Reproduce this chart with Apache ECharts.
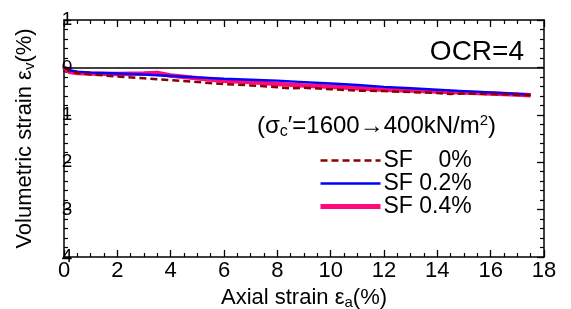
<!DOCTYPE html>
<html>
<head>
<meta charset="utf-8">
<script src="https://cdn.jsdelivr.net/npm/echarts@6/dist/echarts.min.js"></script>
<style>
  html, body { margin: 0; padding: 0; background: #fff; }
  #myChart { width: 571px; height: 309px; }
</style>
</head>
<body>
<div id="myChart"></div>
<script>
// 数据
var xTicks = [0, 2, 4, 6, 8, 10, 12, 14, 16, 18];
var yTickLabels = {'-1': '1', '0': '0', '1': '1', '2': '2', '3': '3', '4': '4'};

var seriesNames = ['SF    0%', 'SF 0.2%', 'SF 0.4%'];

var sf0X = [0, 0.2, 0.5, 1, 2, 3, 4, 5, 6, 7, 8, 8.5, 9, 10, 11, 12, 13, 14, 14.5, 15, 16, 17, 17.5];
var sf0Y = [0, 0.08, 0.12, 0.15, 0.19, 0.23, 0.27, 0.31, 0.35, 0.38, 0.42, 0.44, 0.43, 0.46, 0.49, 0.5, 0.52, 0.54, 0.56, 0.55, 0.56, 0.58, 0.59];

var sf02X = [0, 0.2, 0.5, 1, 2, 3, 4, 5, 6, 7, 8, 9, 10, 11, 12, 13, 14, 15, 16, 17, 17.5];
var sf02Y = [0, 0.06, 0.09, 0.11, 0.13, 0.15, 0.18, 0.21, 0.24, 0.26, 0.28, 0.31, 0.34, 0.37, 0.41, 0.44, 0.47, 0.5, 0.53, 0.56, 0.58];

var sf04X = [0, 0.2, 0.5, 1, 2, 3, 3.5, 4, 5, 6, 7, 8, 9, 10, 11, 12, 13, 14, 15, 16, 17, 17.5];
var sf04Y = [0, 0.09, 0.12, 0.13, 0.14, 0.13, 0.12, 0.17, 0.23, 0.28, 0.31, 0.35, 0.38, 0.41, 0.44, 0.47, 0.49, 0.51, 0.53, 0.55, 0.57, 0.59];

function pairs(xs, ys) {
    return xs.map(function (x, i) { return [x, ys[i]]; });
}

var font = 'Liberation Sans, Arial, sans-serif';
var nameRich = {
    e: { fontSize: 22, fontFamily: font, color: '#000' },
    s: { fontSize: 15, fontFamily: font, color: '#000', verticalAlign: 'bottom', padding: [9, 0, 0, 0] }
};

var myChart = echarts.init(document.getElementById('myChart'));
myChart.setOption({
    animation: false,
    textStyle: { fontFamily: font, color: '#000' },
    grid: { left: 64, right: 27, top: 20, bottom: 52, containLabel: false, outerBoundsMode: 'none' },
    legend: {
        orient: 'vertical',
        left: 318,
        top: 149,
        padding: 0,
        itemWidth: 60,
        itemHeight: 12,
        itemGap: 0,
        itemStyle: { opacity: 0 },
        textStyle: { fontSize: 23, lineHeight: 21.5, color: '#000', fontFamily: font, padding: [0, 0, 0, -2] },
        data: [
            { name: seriesNames[0], lineStyle: { width: 2.6 } },
            { name: seriesNames[1], lineStyle: { width: 2.6 } },
            { name: seriesNames[2], lineStyle: { width: 5 } }
        ]
    },
    xAxis: [
        {
            type: 'value', min: 0, max: 18, interval: 2, position: 'bottom',
            name: '{e|Axial strain ε}{s|a}{e|(%)}',
            nameLocation: 'middle', nameGap: 29,
            nameTextStyle: { fontSize: 22, color: '#000', rich: nameRich },
            axisLine: { show: true, onZero: false, lineStyle: { color: '#000', width: 1.5 } },
            axisTick: { show: true, inside: true, length: 7, lineStyle: { color: '#000', width: 1.3 } },
            minorTick: { show: true, splitNumber: 4, length: 4, lineStyle: { color: '#000', width: 1.2 } },
            axisLabel: { fontSize: 22, color: '#000', margin: 3, showMaxLabel: true },
            splitLine: { show: false }
        },
        {
            type: 'value', min: 0, max: 18, interval: 2, position: 'top',
            axisLine: { show: true, onZero: false, lineStyle: { color: '#000', width: 1.5 } },
            axisTick: { show: true, inside: true, length: 7, lineStyle: { color: '#000', width: 1.3 } },
            minorTick: { show: true, splitNumber: 4, length: 4, lineStyle: { color: '#000', width: 1.2 } },
            axisLabel: { show: false },
            splitLine: { show: false }
        }
    ],
    yAxis: [
        {
            type: 'value', min: -1, max: 4, interval: 1, inverse: true, position: 'left',
            name: '{e|Volumetric strain ε}{s|v}{e|(%)}',
            nameLocation: 'middle', nameGap: 27, nameRotate: 90,
            nameTextStyle: { fontSize: 22, color: '#000', rich: nameRich },
            axisLine: { show: true, onZero: false, lineStyle: { color: '#000', width: 1.5 } },
            axisTick: { show: true, inside: true, length: 7, lineStyle: { color: '#000', width: 1.3 } },
            minorTick: { show: true, splitNumber: 5, length: 4, lineStyle: { color: '#000', width: 1.2 } },
            axisLabel: {
                fontSize: 19, color: '#000', align: 'center', margin: -3,
                showMinLabel: true, showMaxLabel: true,
                formatter: function (v) { return yTickLabels[String(v)]; }
            },
            splitLine: { show: false }
        },
        {
            type: 'value', min: -1, max: 4, interval: 1, inverse: true, position: 'right',
            axisLine: { show: true, onZero: false, lineStyle: { color: '#000', width: 1.5 } },
            axisTick: { show: true, inside: true, length: 7, lineStyle: { color: '#000', width: 1.3 } },
            minorTick: { show: true, splitNumber: 5, length: 4, lineStyle: { color: '#000', width: 1.2 } },
            axisLabel: { show: false },
            splitLine: { show: false }
        }
    ],
    graphic: [
        {
            type: 'text', right: 47, top: 38, z: 10,
            style: { text: 'OCR=4', fontSize: 28, fill: '#000', font: '28px ' + font }
        },
        {
            type: 'text', left: 257, top: 113, z: 10,
            style: {
                text: '(σ{s|c}′=1600→400kN/m{p|2})',
                fontSize: 24, fontFamily: font, fill: '#000',
                rich: {
                    s: { fontSize: 16, fontFamily: font, verticalAlign: 'bottom', padding: [11, 0, 0, 0] },
                    p: { fontSize: 15, fontFamily: font, verticalAlign: 'top', padding: [0, 0, 11, 0] }
                }
            }
        }
    ],
    series: [
        {
            name: seriesNames[2], type: 'line', xAxisIndex: 0, yAxisIndex: 0,
            data: pairs(sf04X, sf04Y), showSymbol: false, symbol: 'none',
            lineStyle: { color: '#ff0a7a', width: 4.5 }, itemStyle: { color: '#ff0a7a' }, z: 2
        },
        {
            name: seriesNames[1], type: 'line', xAxisIndex: 0, yAxisIndex: 0,
            data: pairs(sf02X, sf02Y), showSymbol: false, symbol: 'none',
            lineStyle: { color: '#0000ff', width: 2.4 }, itemStyle: { color: '#0000ff' }, z: 3
        },
        {
            name: seriesNames[0], type: 'line', xAxisIndex: 0, yAxisIndex: 0,
            data: pairs(sf0X, sf0Y), showSymbol: false, symbol: 'none',
            lineStyle: { color: '#8b0000', width: 2.5, type: [7, 4] }, itemStyle: { color: '#8b0000' }, z: 4,
            markLine: {
                silent: true, symbol: 'none', label: { show: false },
                lineStyle: { color: '#000', width: 1.5, type: 'solid' },
                data: [{ yAxis: 0 }]
            }
        }
    ]
});
</script>
</body>
</html>
